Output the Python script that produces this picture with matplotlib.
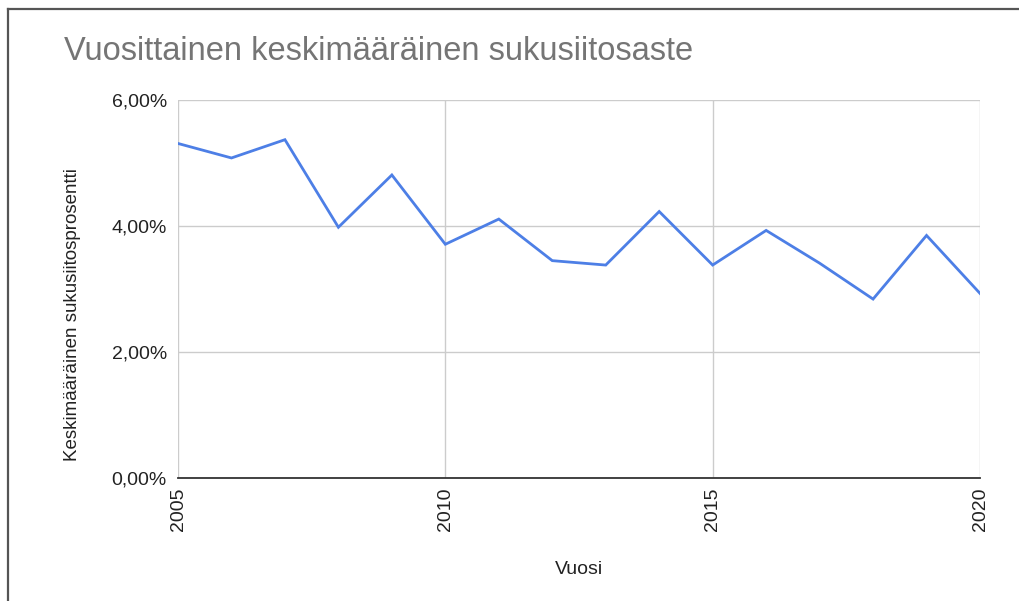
import matplotlib.pyplot as plt
from matplotlib.ticker import FuncFormatter, MultipleLocator
from matplotlib.lines import Line2D

plt.rcParams["font.family"] = ["Liberation Sans", "DejaVu Sans"]

years = [2005, 2006, 2007, 2008, 2009, 2010, 2011, 2012,
         2013, 2014, 2015, 2016, 2017, 2018, 2019, 2020]
inbreeding = [5.31, 5.08, 5.37, 3.98, 4.81, 3.71, 4.11, 3.45,
              3.38, 4.23, 3.38, 3.93, 3.41, 2.84, 3.85, 2.93]
x_ticks = [2005, 2010, 2015, 2020]

title = "Vuosittainen keskimääräinen sukusiitosaste"
x_label = "Vuosi"
y_label = "Keskimääräinen sukusiitosprosentti"

W, H = 1019, 601
fig = plt.figure(figsize=(W / 100, H / 100), dpi=100)
ax = fig.add_axes([178 / W, 1 - 478 / H, (980 - 178) / W, (478 - 100) / H])

ax.plot(years, inbreeding, color="#4d7fe6", lw=2.0, solid_joinstyle="miter")

ax.set_xlim(2005, 2020)
ax.set_ylim(0, 6)
ax.set_xticks(x_ticks)
ax.yaxis.set_major_locator(MultipleLocator(2))
ax.yaxis.set_major_formatter(FuncFormatter(lambda v, p: ("%.2f%%" % v).replace(".", ",")))
ax.grid(True, color="#cccccc", lw=1)
ax.set_axisbelow(True)
for s in ["top", "right", "left"]:
    ax.spines[s].set_visible(False)
ax.spines["bottom"].set_color("#333333")
ax.spines["bottom"].set_linewidth(1.3)
ax.spines["bottom"].set_zorder(3)
ax.tick_params(length=0, labelsize=14, labelcolor="#222222")
ax.tick_params(axis="y", pad=8)
ax.tick_params(axis="x", pad=7)
for lab in ax.get_xticklabels():
    lab.set_rotation(90)
    lab.set_va("top")
    lab.set_ha("center")

# axis titles placed like the original (y title sits a bit below centre)
fig.text(579 / W, 1 - 570 / H, x_label, fontsize=14, color="#222222", ha="center", va="center")
fig.text(73 / W, 1 - 315 / H, y_label, fontsize=13.5, color="#222222",
         ha="center", va="center", rotation=90)

fig.text(64 / W, 1 - 52 / H, title, fontsize=23.5, color="#757575", va="center", ha="left")

# outer frame (top and left edges)
fig.add_artist(Line2D([8 / W, 8 / W], [0, 1 - 9 / H], transform=fig.transFigure, color="#555555", lw=1.6))
fig.add_artist(Line2D([8 / W, 1], [1 - 9 / H, 1 - 9 / H], transform=fig.transFigure, color="#555555", lw=1.6))

fig.savefig("out.png", dpi=100)
